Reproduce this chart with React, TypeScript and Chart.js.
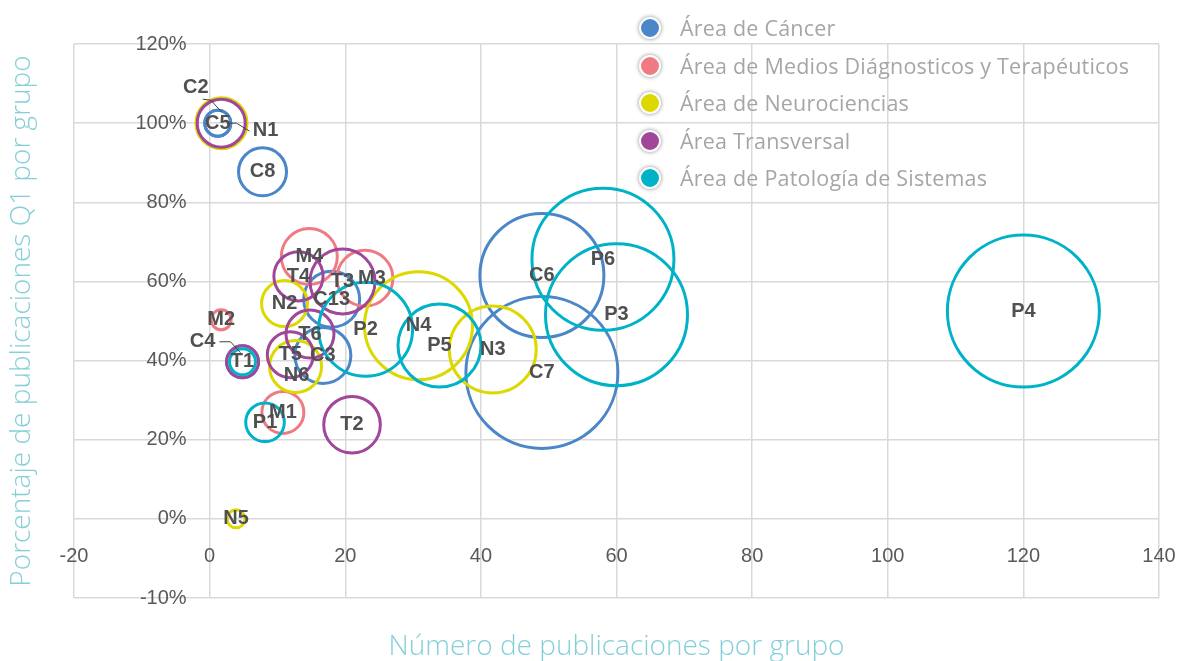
import React, { useEffect, useRef } from 'react';
import { Chart, registerables } from 'chart.js';

Chart.register(...registerables);

const seriesNames = [
  'Área de Cáncer',
  'Área de Medios Diágnosticos y Terapéuticos',
  'Área de Neurociencias',
  'Área Transversal',
  'Área de Patología de Sistemas',
];
const seriesColors = ['#4a86c8', '#f07a82', '#dcd800', '#a0479a', '#00b2c8'];

const cancerLabels = ['C2', 'C5', 'C8', 'C4', 'C13', 'C3', 'C6', 'C7'];
const cancerX = [1.2, 1.2, 7.8, 4.85, 18.0, 16.7, 49, 49];
const cancerY = [1.0, 1.0, 0.877, 0.397, 0.555, 0.413, 0.615, 0.37];
const cancerR = [13, 13, 24, 16, 28, 28, 62, 76];

const mediosLabels = ['M2', 'M4', 'M3', 'M1'];
const mediosX = [1.7, 14.7, 22.9, 10.8];
const mediosY = [0.503, 0.663, 0.608, 0.269];
const mediosR = [10, 28, 28, 21];

const neuroLabels = ['N1', 'N2', 'N6', 'N4', 'N3', 'N5'];
const neuroX = [1.75, 11.05, 12.67, 30.8, 41.75, 3.9];
const neuroY = [1.0, 0.544, 0.385, 0.488, 0.428, 0.0];
const neuroR = [25.5, 23, 26, 54, 43.5, 9];

const transLabels = ['', 'T1', 'T4', 'T6', 'T5', 'T3', 'T2'];
const transX = [1.71, 4.85, 13.1, 14.8, 11.9, 19.6, 21.0];
const transY = [1.0, 0.397, 0.613, 0.467, 0.415, 0.6, 0.238];
const transR = [24, 16, 24.6, 24, 23, 32.5, 28.3];

const patoLabels = ['', 'P1', 'P2', 'P5', 'P6', 'P3', 'P4'];
const patoX = [4.85, 8.17, 23.0, 33.9, 58, 60, 120];
const patoY = [0.397, 0.244, 0.479, 0.438, 0.656, 0.516, 0.525];
const patoR = [13, 19.3, 47, 41.5, 71, 71, 76];

const xMin = -20;
const xMax = 140;
const xStep = 20;
const yMin = -0.2;
const yMax = 1.2;
const yStep = 0.2;
const yTickLabels = ['-10%', '0%', '20%', '40%', '60%', '80%', '100%', '120%'];

const xTitle = 'Número de publicaciones por grupo';
const yTitle = 'Porcentaje de publicaciones Q1 por grupo';

const labelOffsets: Record<string, [number, number]> = {
  C2: [-22, -36],
  N1: [44, 7],
  C4: [-40, -20],
  M3: [7, 0],
  N6: [1, 9],
};
const leaderLines: Record<string, [number, number][]> = {
  C2: [[-15, -24], [-7, -23], [4, -11]],
  N1: [[6, 0], [15, 0], [28, 8]],
  C4: [[-23, -20], [-12, -20], [-2, -9]],
};

function build(labels: string[], xs: number[], ys: number[], rs: number[]) {
  return labels.map((label, i) => ({ x: xs[i], y: ys[i], r: rs[i], label }));
}

const allSeries = [
  build(cancerLabels, cancerX, cancerY, cancerR),
  build(mediosLabels, mediosX, mediosY, mediosR),
  build(neuroLabels, neuroX, neuroY, neuroR),
  build(transLabels, transX, transY, transR),
  build(patoLabels, patoX, patoY, patoR),
];

const labelPlugin = {
  id: 'bubbleLabels',
  afterDatasetsDraw(chart: any) {
    const ctx = chart.ctx as CanvasRenderingContext2D;
    ctx.save();
    ctx.font = 'bold 20px "Liberation Sans", Arial, sans-serif';
    ctx.textAlign = 'center';
    ctx.textBaseline = 'middle';
    chart.data.datasets.forEach((ds: any, i: number) => {
      const meta = chart.getDatasetMeta(i);
      meta.data.forEach((el: any, j: number) => {
        const lab = ds.data[j].label;
        if (!lab) return;
        const off = labelOffsets[lab] || [0, 0];
        const lead = leaderLines[lab];
        if (lead) {
          ctx.strokeStyle = '#404040';
          ctx.lineWidth = 1;
          ctx.beginPath();
          lead.forEach((p, k) => {
            if (k === 0) ctx.moveTo(el.x + p[0], el.y + p[1]);
            else ctx.lineTo(el.x + p[0], el.y + p[1]);
          });
          ctx.stroke();
        }
        ctx.fillStyle = '#505050';
        ctx.fillText(lab, el.x + off[0], el.y + off[1]);
      });
    });
    ctx.restore();
  },
};

const axisTitlePlugin = {
  id: 'axisTitles',
  afterDraw(chart: any) {
    const ctx = chart.ctx as CanvasRenderingContext2D;
    const ca = chart.chartArea;
    ctx.save();
    ctx.font = '300 28px "Open Sans", sans-serif';
    ctx.fillStyle = '#86cfd9';
    ctx.textAlign = 'center';
    ctx.textBaseline = 'middle';
    ctx.fillText(xTitle, (ca.left + ca.right) / 2, ca.bottom + 49);
    ctx.translate(22, (ca.top + ca.bottom) / 2);
    ctx.rotate(-Math.PI / 2);
    ctx.fillText(yTitle, 0, 0);
    ctx.restore();
  },
};

export default function App() {
  const canvasRef = useRef<HTMLCanvasElement | null>(null);

  useEffect(() => {
    document.body.style.margin = '0';
    const canvas = canvasRef.current;
    if (!canvas) return;
    const tickFont = { family: '"Liberation Sans", Arial, sans-serif', size: 20 };
    const chart = new Chart(canvas, {
      type: 'bubble',
      data: {
        datasets: allSeries.map((data, i) => ({
          label: seriesNames[i],
          data,
          backgroundColor: 'rgba(0,0,0,0)',
          borderColor: seriesColors[i],
          borderWidth: 3,
          hoverBorderWidth: 3,
          order: allSeries.length - i,
        })),
      },
      options: {
        responsive: false,
        animation: false,
        events: [],
        layout: { autoPadding: false, padding: { top: 44, right: 25, bottom: 63, left: 74 } },
        scales: {
          x: {
            type: 'linear',
            axis: 'x',
            min: xMin,
            max: xMax,
            position: { y: -0.065 } as any,
            ticks: { stepSize: xStep, color: '#595959', font: tickFont, padding: 0 },
            grid: { color: '#d9d9d9', lineWidth: 1.5, drawTicks: false },
            border: { display: false },
          },
          y: {
            type: 'linear',
            axis: 'y',
            min: yMin,
            max: yMax,
            position: { x: -3.4 } as any,
            ticks: {
              stepSize: yStep,
              color: '#595959',
              font: tickFont,
              callback: (_v: any, index: number) => yTickLabels[index],
            },
            grid: { color: '#d9d9d9', lineWidth: 1.5, drawTicks: false },
            border: { display: false },
          },
        },
        plugins: {
          legend: { display: false },
          tooltip: { enabled: false },
        },
      },
      plugins: [labelPlugin, axisTitlePlugin],
    });
    return () => chart.destroy();
  }, []);

  return (
    <div style={{ position: 'relative', width: 1184, height: 661, overflow: 'hidden' }}>
      <canvas ref={canvasRef} width={1184} height={661} style={{ display: 'block' }} />
      <div style={{ position: 'absolute', left: 639, top: 9.25 }}>
        {seriesNames.map((n, i) => (
          <div key={n} style={{ display: 'flex', alignItems: 'center', height: 37.5 }}>
            <span
              style={{
                display: 'inline-block',
                width: 22,
                height: 22,
                boxSizing: 'border-box',
                borderRadius: '50%',
                background: seriesColors[i],
                border: '2px solid #fff',
                boxShadow: '0 0 4px rgba(0,0,0,0.45)',
              }}
            />
            <span
              style={{
                marginLeft: 19,
                font: '21.5px "Open Sans", sans-serif',
                letterSpacing: '0.2px',
                color: '#a6a6a6',
                whiteSpace: 'nowrap',
                lineHeight: '24px',
              }}
            >
              {n}
            </span>
          </div>
        ))}
      </div>
    </div>
  );
}
